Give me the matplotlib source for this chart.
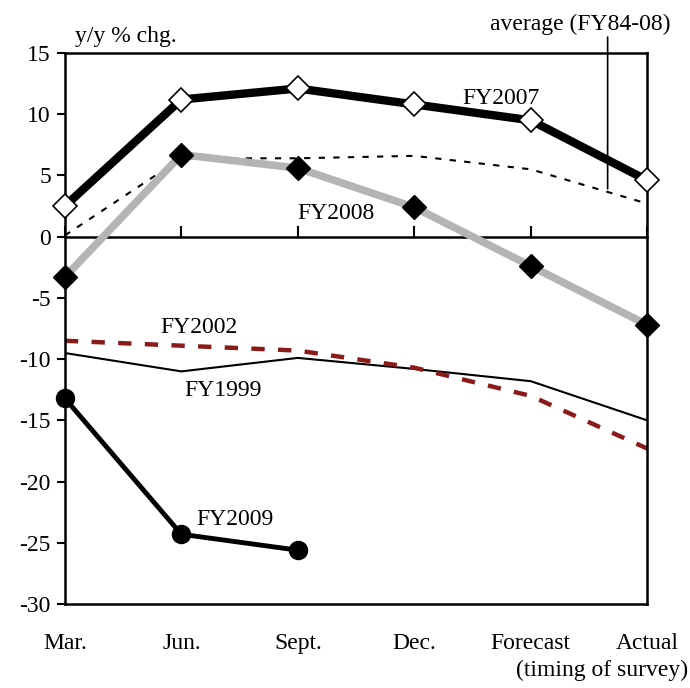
import matplotlib
matplotlib.use("Agg")
import matplotlib.pyplot as plt

plt.rcParams['font.family'] = ['Liberation Serif', 'DejaVu Serif']
plt.rcParams['font.size'] = 17
plt.rcParams['axes.unicode_minus'] = False

# Данные
categories = ["Mar.", "Jun.", "Sept.", "Dec.", "Forecast", "Actual"]
fy2007 = [2.5, 11.2, 12.1, 10.8, 9.5, 4.6]
fy2008 = [-3.3, 6.7, 5.6, 2.4, -2.4, -7.2]
average = [0.1, 6.4, 6.4, 6.6, 5.5, 2.7]
fy2002 = [-8.5, -8.9, -9.3, -10.7, -13.0, -17.3]
fy1999 = [-9.5, -11.0, -9.9, -10.8, -11.8, -15.0]
fy2009 = [-13.2, -24.3, -25.6]

x = list(range(len(categories)))

fig = plt.figure(figsize=(6.9, 6.88), dpi=100)
ax = fig.add_axes([0.094, 0.122, 0.844, 0.801])

ax.plot(x, fy1999, color="black", linewidth=1.5)
ax.plot(x, fy2002, color="#8b1a1a", linewidth=3.2, dashes=(3, 3))
ax.plot(x, average, color="black", linewidth=1.5, dashes=(3, 4))
ax.plot(x, fy2008, color="#b4b4b4", linewidth=5.5, marker="D", markersize=12,
        markerfacecolor="black", markeredgecolor="black", zorder=3, clip_on=False)
ax.plot(x, fy2007, color="black", linewidth=6, marker="D", markersize=12,
        markerfacecolor="white", markeredgecolor="black", markeredgewidth=1.2,
        zorder=4, clip_on=False)
ax.plot(x[:len(fy2009)], fy2009, color="black", linewidth=3.5, marker="o",
        markersize=13, zorder=4, clip_on=False)

# Оси
ax.set_xlim(0, 5)
ax.set_ylim(-30, 15)
ax.set_yticks(range(-30, 16, 5))
ax.tick_params(axis="y", direction="out", length=6, width=1.5, pad=4)
ax.spines['bottom'].set_position(('data', 0))
ax.set_xticks(x)
ax.tick_params(axis="x", direction="in", length=8, width=1.5, labelbottom=False)
for s in ax.spines.values():
    s.set_linewidth(1.8)

secax = ax.secondary_xaxis(0.0)
secax.set_xticks(x)
secax.set_xticklabels(categories)
secax.tick_params(length=0, pad=21)
secax.spines['bottom'].set_linewidth(1.8)

# Подписи
ax.text(0.018, 1.029, "y/y % chg.", transform=ax.transAxes, ha="left", va="center")
fig.text(0.972, 0.964, "average (FY84-08)", ha="right", va="center")
ax.annotate("", xy=(4.66, 3.9), xytext=(4.66, 16.3), annotation_clip=False,
            arrowprops=dict(arrowstyle="-", color="black", linewidth=1.2,
                            shrinkA=0, shrinkB=0))
ax.text(3.41, 11.3, "FY2007", ha="left", va="center")
ax.text(2.0, 1.9, "FY2008", ha="left", va="center")
ax.text(0.82, -7.4, "FY2002", ha="left", va="center")
ax.text(1.03, -12.6, "FY1999", ha="left", va="center")
ax.text(1.13, -23.1, "FY2009", ha="left", va="center")
fig.text(0.997, 0.026, "(timing of survey)", ha="right", va="center")

fig.savefig("out.png", dpi=100)
